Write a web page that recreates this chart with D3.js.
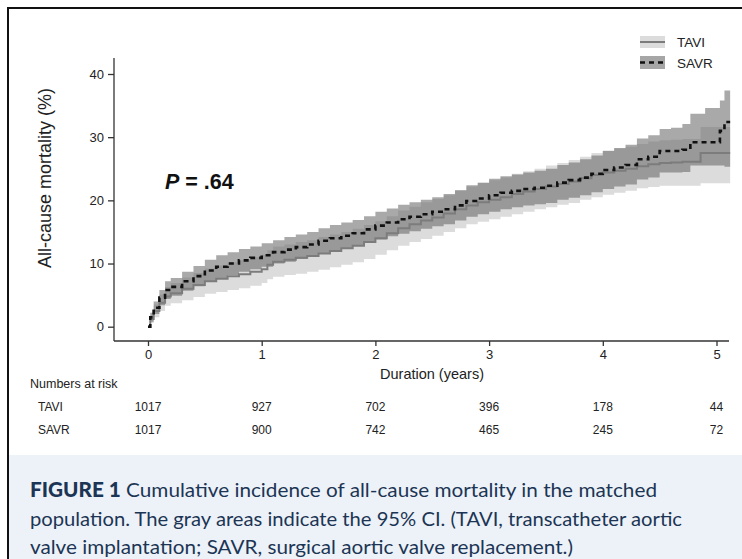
<!DOCTYPE html>
<html>
<head>
<meta charset="utf-8">
<script src="https://cdn.jsdelivr.net/npm/d3@7"></script>
<style>
  html, body { margin: 0; padding: 0; background: #fff; }
  svg { display: block; }
</style>
</head>
<body>
<svg id="chart" width="742" height="559"></svg>
<script>
// ---------------- DATA ----------------
const yTicks = [0, 10, 20, 30, 40];
const xTicks = [0, 1, 2, 3, 4, 5];
const groups = ["TAVI", "SAVR"];
const riskTAVI = [1017, 927, 702, 396, 178, 44];
const riskSAVR = [1017, 900, 742, 465, 245, 72];

const taviTime = [0, .02, .05, .1, .15, .2, .3, .4, .5, .6, .7, .8, .9, 1.0, 1.05, 1.1, 1.2, 1.3, 1.4, 1.5, 1.6, 1.7, 1.8, 1.9, 2.0, 2.1, 2.2, 2.3, 2.4, 2.5, 2.6, 2.7, 2.8, 2.9, 3.0, 3.1, 3.2, 3.3, 3.4, 3.5, 3.6, 3.7, 3.8, 3.9, 4.0, 4.1, 4.2, 4.3, 4.4, 4.5, 4.6, 4.7, 4.86, 5.12];
const taviEst = [0, 1.2, 2.5, 3.8, 4.8, 5.3, 6.0, 6.6, 7.2, 7.6, 8.0, 8.3, 8.7, 9.1, 9.8, 10.3, 10.6, 10.9, 11.2, 11.6, 12.0, 12.4, 12.8, 13.4, 14.0, 14.8, 15.6, 16.2, 16.8, 17.3, 17.9, 18.6, 19.2, 19.7, 20.1, 20.5, 21.0, 21.4, 21.8, 22.2, 22.6, 23.0, 23.5, 24.0, 24.4, 24.7, 25.0, 25.4, 25.7, 25.9, 26.0, 26.1, 27.5, 27.5];
const taviLo = [0, 0.6, 1.5, 2.5, 3.3, 3.7, 4.2, 4.7, 5.2, 5.5, 5.8, 6.1, 6.5, 6.9, 7.5, 7.9, 8.2, 8.4, 8.7, 9.0, 9.4, 9.8, 10.2, 10.7, 11.4, 12.1, 12.8, 13.4, 13.9, 14.4, 15.0, 15.6, 16.2, 16.6, 17.0, 17.4, 17.8, 18.2, 18.6, 18.9, 19.3, 19.6, 20.1, 20.5, 20.9, 21.2, 21.5, 21.9, 22.1, 22.3, 22.3, 22.3, 22.7, 22.7];
const taviHi = [0, 1.8, 3.5, 5.1, 6.3, 6.9, 7.8, 8.5, 9.2, 9.7, 10.2, 10.5, 11.0, 11.4, 12.1, 12.7, 13.0, 13.4, 13.7, 14.2, 14.6, 15.0, 15.5, 16.1, 16.7, 17.5, 18.4, 19.0, 19.7, 20.2, 20.8, 21.6, 22.2, 22.8, 23.2, 23.6, 24.2, 24.6, 25.0, 25.5, 25.9, 26.4, 26.9, 27.5, 27.9, 28.2, 28.5, 28.9, 29.3, 29.5, 29.6, 29.7, 31.6, 31.6];

const savrTime = [0, .02, .05, .1, .15, .2, .3, .4, .5, .6, .7, .8, .9, 1.0, 1.1, 1.2, 1.3, 1.4, 1.5, 1.6, 1.7, 1.8, 1.9, 2.0, 2.1, 2.2, 2.3, 2.4, 2.5, 2.6, 2.7, 2.8, 2.9, 3.0, 3.1, 3.2, 3.3, 3.4, 3.5, 3.6, 3.7, 3.8, 3.9, 4.0, 4.1, 4.2, 4.3, 4.4, 4.5, 4.6, 4.7, 4.77, 4.9, 5.03, 5.07, 5.12];
const savrEst = [0, 1.5, 3.0, 4.6, 5.8, 6.3, 7.2, 8.0, 8.9, 9.5, 10.0, 10.5, 10.9, 11.3, 11.8, 12.2, 12.6, 13.0, 13.6, 14.0, 14.4, 14.8, 15.4, 16.0, 16.5, 17.0, 17.4, 17.8, 18.2, 18.6, 19.2, 19.9, 20.3, 20.8, 21.2, 21.5, 21.8, 22.0, 22.3, 22.8, 23.2, 23.6, 24.2, 24.8, 25.2, 25.6, 26.5, 26.9, 27.8, 27.8, 28.0, 29.2, 29.2, 31.0, 32.4, 32.4];
const savrLo = [0, 0.8, 2.0, 3.4, 4.4, 4.9, 5.7, 6.4, 7.2, 7.7, 8.2, 8.7, 9.1, 9.5, 10.0, 10.3, 10.7, 11.1, 11.6, 12.0, 12.4, 12.8, 13.3, 13.8, 14.3, 14.7, 15.1, 15.5, 15.9, 16.2, 16.8, 17.4, 17.8, 18.2, 18.6, 18.9, 19.2, 19.4, 19.6, 20.1, 20.4, 20.8, 21.3, 21.8, 22.2, 22.5, 23.3, 23.6, 24.4, 24.4, 24.5, 25.5, 25.5, 25.5, 25.3, 25.3];
const savrHi = [0, 2.2, 4.0, 5.8, 7.2, 7.7, 8.7, 9.6, 10.6, 11.3, 11.8, 12.3, 12.7, 13.2, 13.7, 14.2, 14.6, 15.0, 15.6, 16.1, 16.5, 16.9, 17.5, 18.2, 18.7, 19.3, 19.7, 20.1, 20.5, 21.0, 21.6, 22.4, 22.8, 23.4, 23.8, 24.1, 24.4, 24.7, 25.0, 25.6, 26.0, 26.5, 27.1, 27.8, 28.3, 28.8, 29.8, 30.3, 31.3, 31.5, 32.1, 33.7, 34.6, 35.8, 37.4, 37.4];

const captionLines = [
  [{t: "FIGURE 1", b: true}, {t: " Cumulative incidence of all-cause mortality in the matched", b: false}],
  [{t: "population. The gray areas indicate the 95% CI. (TAVI, transcatheter aortic", b: false}],
  [{t: "valve implantation; SAVR, surgical aortic valve replacement.)", b: false}]
];
const captionWidths = [627, 652, 543];

// ---------------- DRAW ----------------
const svg = d3.select("#chart");
const font = "Liberation Sans, Arial, sans-serif";

// caption background
svg.append("rect").attr("x", 9).attr("y", 455).attr("width", 733).attr("height", 104).attr("fill", "#edf2f9");
// frame
svg.append("path").attr("d", "M8,559 V8 H742").attr("fill", "none").attr("stroke", "#111").attr("stroke-width", 2);

const x = d3.scaleLinear().domain([0, 5]).range([148, 716.5]);
const y = d3.scaleLinear().domain([0, 40]).range([326.7, 74]);

const zip = (T, E, L, H) => T.map((t, i) => ({t, e: E[i], lo: L[i], hi: H[i]}));
const tavi = zip(taviTime, taviEst, taviLo, taviHi);
const savr = zip(savrTime, savrEst, savrLo, savrHi);

const area = d3.area().curve(d3.curveStepAfter).x(d => x(d.t)).y0(d => y(d.lo)).y1(d => y(d.hi));
const line = d3.line().curve(d3.curveStepAfter).x(d => x(d.t)).y(d => y(d.e));

svg.append("path").datum(tavi).attr("d", area).attr("fill", "#dcdcdc");
svg.append("path").datum(savr).attr("d", area).attr("fill", "#606060").attr("fill-opacity", 0.54);
svg.append("path").datum(tavi).attr("d", line).attr("fill", "none").attr("stroke", "#7c7c7c").attr("stroke-width", 2);
svg.append("path").datum(savr).attr("d", line).attr("fill", "none").attr("stroke", "#111").attr("stroke-width", 2.6).attr("stroke-dasharray", "5,4");

// axes
const yAxis = svg.append("g").attr("transform", "translate(114,0)")
  .call(d3.axisLeft(y).tickValues(yTicks).tickFormat(d3.format("d")).tickSize(6).tickPadding(4));
yAxis.select(".domain").attr("d", "M0,58 V341");
const xAxis = svg.append("g").attr("transform", "translate(0,341)")
  .call(d3.axisBottom(x).tickValues(xTicks).tickFormat(d3.format("d")).tickSize(5).tickPadding(4));
xAxis.select(".domain").attr("d", "M114,0 H729");
[yAxis, xAxis].forEach(g => {
  g.selectAll("path, line").attr("stroke", "#333").attr("stroke-width", 1.3);
  g.selectAll("text").attr("font-family", font).attr("font-size", 13).attr("fill", "#222");
});

// axis titles
svg.append("text").attr("transform", "translate(51,178) rotate(-90)").attr("text-anchor", "middle")
  .attr("font-family", font).attr("font-size", 18).attr("fill", "#222").text("All-cause mortality (%)");
svg.append("text").attr("x", 432).attr("y", 379).attr("text-anchor", "middle")
  .attr("font-family", font).attr("font-size", 14.5).attr("fill", "#222").text("Duration (years)");

// P value
const p = svg.append("text").attr("x", 165).attr("y", 189).attr("font-family", font).attr("font-size", 21.5).attr("font-weight", "bold").attr("fill", "#111");
p.append("tspan").attr("font-style", "italic").text("P");
p.append("tspan").text(" = .64");

// legend
const lg = svg.append("g");
lg.append("rect").attr("x", 640).attr("y", 36).attr("width", 25).attr("height", 12).attr("fill", "#dcdcdc");
lg.append("line").attr("x1", 640).attr("x2", 665).attr("y1", 42).attr("y2", 42).attr("stroke", "#7c7c7c").attr("stroke-width", 2);
lg.append("rect").attr("x", 640).attr("y", 56).attr("width", 25).attr("height", 13).attr("fill", "#a6a6a6");
lg.append("line").attr("x1", 640).attr("x2", 665).attr("y1", 62.5).attr("y2", 62.5).attr("stroke", "#111").attr("stroke-width", 2.6).attr("stroke-dasharray", "5,4");
groups.forEach((g, i) => {
  lg.append("text").attr("x", 677).attr("y", 47 + i * 21).attr("font-family", font).attr("font-size", 13.5).attr("fill", "#222").text(g);
});

// numbers at risk
svg.append("text").attr("x", 30).attr("y", 388).attr("font-family", font).attr("font-size", 12.5).attr("fill", "#222").text("Numbers at risk");
[riskTAVI, riskSAVR].forEach((row, i) => {
  svg.append("text").attr("x", 38).attr("y", 411 + i * 23).attr("font-family", font).attr("font-size", 12).attr("fill", "#222").text(groups[i]);
  row.forEach((v, j) => {
    svg.append("text").attr("x", x(xTicks[j])).attr("y", 411 + i * 23).attr("text-anchor", "middle")
      .attr("font-family", font).attr("font-size", 12).attr("fill", "#222").text(v);
  });
});

// caption
const capY = [497, 526, 554];
captionLines.forEach((ln, i) => {
  const t = svg.append("text").attr("x", 30).attr("y", capY[i]).attr("font-family", "Lato, 'Open Sans', sans-serif")
    .attr("font-size", 20).attr("fill", "#1c3554")
    .attr("textLength", captionWidths[i]).attr("lengthAdjust", "spacingAndGlyphs");
  ln.forEach(s => t.append("tspan").attr("font-weight", s.b ? 900 : 400).text(s.t));
});
</script>
</body>
</html>
